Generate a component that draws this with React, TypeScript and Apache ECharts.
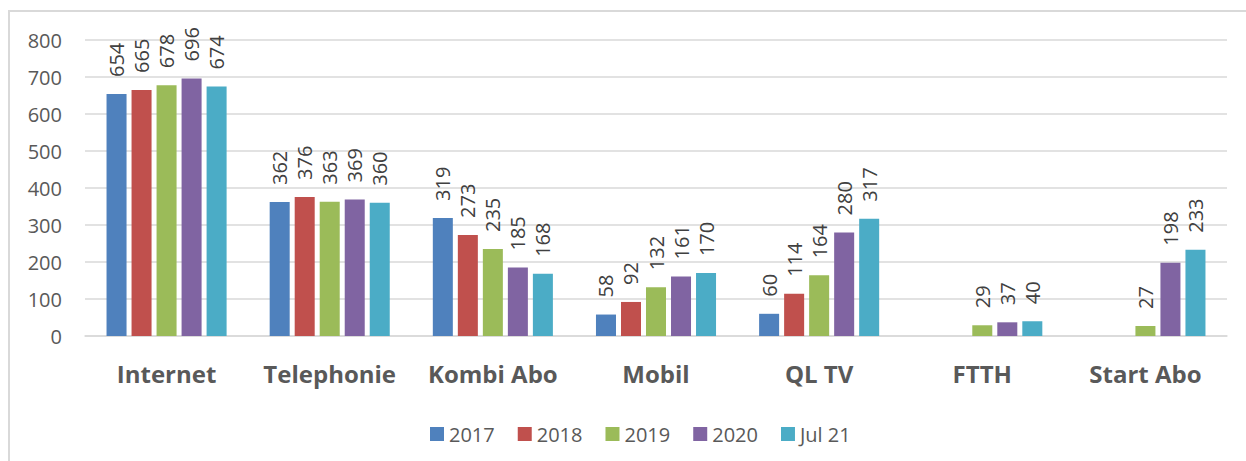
import React, { useEffect, useRef } from "react";
import * as echarts from "echarts";

const categories = ["Internet", "Telephonie", "Kombi Abo", "Mobil", "QL TV", "FTTH", "Start Abo"];
const seriesNames = ["2017", "2018", "2019", "2020", "Jul 21"];
const colors = ["#4f81bd", "#c0504d", "#9bbb59", "#8064a2", "#4bacc6"];
const v2017 = [654, 362, 319, 58, 60, null, null];
const v2018 = [665, 376, 273, 92, 114, null, null];
const v2019 = [678, 363, 235, 132, 164, 29, 27];
const v2020 = [696, 369, 185, 161, 280, 37, 198];
const vJul21 = [674, 360, 168, 170, 317, 40, 233];
const seriesValues = [v2017, v2018, v2019, v2020, vJul21];
const yTicks = { min: 0, max: 800, interval: 100 };

const FONT = "'Open Sans', 'Liberation Sans', sans-serif";

export default function App() {
  const ref = useRef<HTMLDivElement>(null);
  useEffect(() => {
    if (!ref.current) return;
    const chart = echarts.init(ref.current, undefined, { renderer: "svg" });
    chart.setOption({
      animation: false,
      backgroundColor: "#ffffff",
      textStyle: { fontFamily: FONT },
      graphic: [
        {
          type: "rect",
          shape: { x: 9, y: 11, width: 1400, height: 600 },
          style: { fill: "none", stroke: "#d9d9d9", lineWidth: 2 },
          silent: true,
        },
      ],
      grid: { left: 85, right: 19, top: 40, bottom: 125, containLabel: false },
      legend: {
        data: seriesNames,
        top: 419,
        left: 425,
        icon: "rect",
        itemWidth: 14,
        itemHeight: 14,
        itemGap: 23,
        textStyle: { fontSize: 20, color: "#595959", fontFamily: FONT },
      },
      xAxis: {
        type: "category",
        data: categories,
        axisLine: { lineStyle: { color: "#d9d9d9", width: 1.5 } },
        axisTick: { show: false },
        axisLabel: {
          interval: 0,
          hideOverlap: false,
          fontSize: 24,
          fontWeight: "bold",
          color: "#595959",
          margin: 25,
          fontFamily: FONT,
        },
      },
      yAxis: {
        type: "value",
        min: yTicks.min,
        max: yTicks.max,
        interval: yTicks.interval,
        axisLine: { show: false },
        axisTick: { show: false },
        splitLine: { lineStyle: { color: "#d9d9d9", width: 1.5 } },
        axisLabel: { fontSize: 20, color: "#595959", margin: 23, fontFamily: FONT },
      },
      series: seriesNames.map((name, i) => ({
        name,
        type: "bar",
        data: seriesValues[i],
        barGap: "25%",
        barCategoryGap: "26.4%",
        itemStyle: { color: colors[i] },
        label: {
          show: true,
          position: "top",
          rotate: 90,
          align: "left",
          verticalAlign: "middle",
          distance: 17,
          fontSize: 20,
          color: "#404040",
          fontFamily: FONT,
        },
      })),
    });
    return () => chart.dispose();
  }, []);
  return (
    <div
      ref={ref}
      style={{ position: "absolute", left: 0, top: 0, width: 1246, height: 461 }}
    />
  );
}
